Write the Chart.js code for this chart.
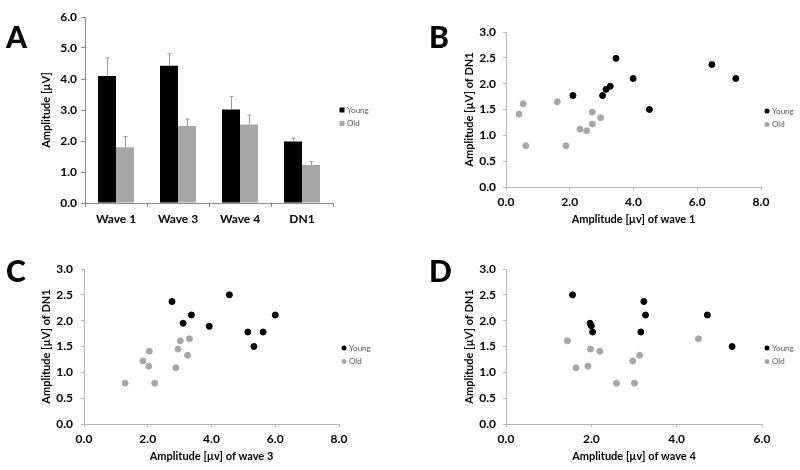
<!DOCTYPE html>
<html>
<head>
<meta charset="utf-8">
<script src="https://cdn.jsdelivr.net/npm/chart.js@4"></script>
<style>
    body { margin: 0; background: #fff; }
    #wrap { position: relative; width: 800px; height: 470px; overflow: hidden; }
    .panel { position: absolute; width: 400px; height: 235px; }
    .letter { position: absolute; font-family: Lato, "Liberation Sans", sans-serif; font-weight: 900; font-size: 30px; color: #000; line-height: 1; }
</style>
</head>
<body>
<div id="wrap">
    <div class="panel" style="left:0;top:0"><canvas id="chartA" width="400" height="235"></canvas></div>
    <div class="panel" style="left:400px;top:0"><canvas id="chartB" width="400" height="235"></canvas></div>
    <div class="panel" style="left:0;top:235px"><canvas id="chartC" width="400" height="235"></canvas></div>
    <div class="panel" style="left:400px;top:235px"><canvas id="chartD" width="400" height="235"></canvas></div>
    <div class="letter" style="left:6px;top:21px">A</div>
    <div class="letter" style="left:429px;top:21px">B</div>
    <div class="letter" style="left:6px;top:255px">C</div>
    <div class="letter" style="left:429px;top:255px">D</div>
</div>
<script>
// Panel A - mean amplitudes
const categories = ['Wave 1', 'Wave 3', 'Wave 4', 'DN1'];
const youngMean = [4.1, 4.43, 3.02, 1.98];
const oldMean = [1.8, 2.48, 2.53, 1.23];
const youngErr = [0.6, 0.4, 0.43, 0.12];
const oldErr = [0.36, 0.24, 0.32, 0.12];

// Panel B - wave 1 vs DN1
const w1YoungX = [2.1, 3.03, 3.14, 3.27, 3.45, 3.99, 4.5, 6.46, 7.21];
const w1YoungY = [1.77, 1.77, 1.89, 1.95, 2.49, 2.1, 1.5, 2.37, 2.1];
const w1OldX = [0.41, 0.54, 0.62, 1.61, 1.88, 2.32, 2.53, 2.71, 2.71, 2.97];
const w1OldY = [1.41, 1.61, 0.8, 1.65, 0.8, 1.12, 1.09, 1.45, 1.22, 1.34];

// Panel C - wave 3 vs DN1
const w3YoungX = [2.76, 3.11, 3.37, 3.93, 4.56, 5.14, 5.33, 5.62, 6.0];
const w3YoungY = [2.37, 1.95, 2.11, 1.89, 2.5, 1.78, 1.5, 1.78, 2.11];
const w3OldX = [1.29, 1.85, 2.05, 2.03, 2.22, 2.88, 2.95, 3.02, 3.25, 3.31];
const w3OldY = [0.79, 1.22, 1.41, 1.12, 0.79, 1.09, 1.45, 1.61, 1.33, 1.65];

// Panel D - wave 4 vs DN1
const w4YoungX = [1.56, 1.97, 2.0, 2.03, 3.16, 3.23, 3.27, 4.72, 5.3];
const w4YoungY = [2.5, 1.95, 1.9, 1.78, 1.78, 2.37, 2.11, 2.11, 1.5];
const w4OldX = [1.44, 1.64, 1.92, 1.98, 2.2, 2.59, 2.97, 3.01, 3.13, 4.51];
const w4OldY = [1.61, 1.09, 1.12, 1.45, 1.41, 0.79, 1.22, 0.79, 1.33, 1.65];

const BLACK = '#000000';
const GREY = '#a6a6a6';
const FONT = 'Lato, "Liberation Sans", sans-serif';

const toPoints = (xs, ys) => xs.map((x, i) => ({ x: x, y: ys[i] }));

// one-sided error bars, drawn through the y scale
const errorBars = {
    id: 'errorBars',
    afterDatasetsDraw(chart) {
        const errs = chart.options.plugins.errorBars.errors;
        if (!errs) return;
        const ctx = chart.ctx;
        const y = chart.scales.y;
        ctx.save();
        ctx.strokeStyle = '#9a9a9a';
        ctx.lineWidth = 1;
        chart.data.datasets.forEach((ds, di) => {
            const meta = chart.getDatasetMeta(di);
            meta.data.forEach((bar, i) => {
                const top = y.getPixelForValue(ds.data[i] + errs[di][i]);
                const x = Math.round(bar.x) + 0.5;
                ctx.beginPath();
                ctx.moveTo(x, bar.y);
                ctx.lineTo(x, top);
                ctx.moveTo(x - 2, top + 0.5);
                ctx.lineTo(x + 2, top + 0.5);
                ctx.stroke();
            });
        });
        ctx.restore();
    }
};

// small legend to the right of the plot
const sideLegend = {
    id: 'sideLegend',
    afterDraw(chart) {
        const o = chart.options.plugins.sideLegend;
        const ctx = chart.ctx;
        ctx.save();
        ctx.font = '8px ' + FONT;
        ctx.textBaseline = 'middle';
        chart.data.datasets.forEach((ds, i) => {
            const yy = o.y + i * 13.6;
            ctx.fillStyle = ds.backgroundColor;
            if (o.shape === 'square') {
                ctx.fillRect(o.x - 2.5, yy - 2.5, 5, 5);
            } else {
                ctx.beginPath();
                ctx.arc(o.x, yy, 2.5, 0, Math.PI * 2);
                ctx.fill();
            }
            ctx.fillStyle = '#555';
            ctx.fillText(ds.label, o.x + 5, yy);
        });
        ctx.restore();
    }
};

Chart.register(errorBars, sideLegend);

function fixWidth(w) {
    return scale => { scale.width = w; };
}
function fixHeight(h) {
    return scale => { scale.height = h; };
}

// Panel A
new Chart(document.getElementById('chartA'), {
    type: 'bar',
    data: {
        labels: categories,
        datasets: [
            { label: 'Young', data: youngMean, backgroundColor: BLACK },
            { label: 'Old', data: oldMean, backgroundColor: GREY }
        ]
    },
    options: {
        responsive: false,
        animation: false,
        categoryPercentage: 0.58,
        barPercentage: 1,
        layout: { padding: { top: 17, right: 67, left: 0, bottom: 0 } },
        plugins: {
            legend: { display: false },
            tooltip: { enabled: false },
            errorBars: { errors: [youngErr, oldErr] },
            sideLegend: { x: 342, y: 110, shape: 'square' }
        },
        scales: {
            x: {
                afterFit: fixHeight(32),
                border: { color: '#888' },
                grid: { display: true, drawOnChartArea: false, offset: true, tickLength: 4, color: '#888' },
                ticks: { color: '#000', padding: 5, font: { family: FONT, size: 12, weight: 'bold' } }
            },
            y: {
                min: 0,
                max: 6,
                afterFit: fixWidth(85),
                border: { color: '#888' },
                grid: { drawOnChartArea: false, tickLength: 4, color: '#888' },
                ticks: {
                    stepSize: 1,
                    color: '#000',
                    padding: 4,
                    font: { family: FONT, size: 12, weight: 'bold' },
                    callback: v => v.toFixed(1)
                },
                title: {
                    display: true,
                    text: 'Amplitude [µV]',
                    color: '#000',
                    padding: { top: 40 },
                    font: { family: FONT, size: 11, weight: 'bold' }
                }
            }
        }
    }
});

function scatterPanel(id, xTitle, xMax, youngPts, oldPts, box) {
    new Chart(document.getElementById(id), {
        type: 'scatter',
        data: {
            datasets: [
                { label: 'Young', data: youngPts, backgroundColor: BLACK, borderColor: BLACK, pointRadius: 3 },
                { label: 'Old', data: oldPts, backgroundColor: GREY, borderColor: GREY, pointRadius: 3 }
            ]
        },
        options: {
            responsive: false,
            animation: false,
            layout: { padding: { top: box.top, right: box.right, left: 0, bottom: 0 } },
            plugins: {
                legend: { display: false },
                tooltip: { enabled: false },
                sideLegend: { x: box.legX, y: box.legY, shape: 'circle' }
            },
            scales: {
                x: {
                    min: 0,
                    max: xMax,
                    afterFit: fixHeight(box.xh),
                    border: { color: '#b5b5b5' },
                    grid: { drawOnChartArea: false, tickLength: 3, color: '#b5b5b5' },
                    ticks: {
                        stepSize: 2,
                        color: '#000',
                        padding: 5,
                        font: { family: FONT, size: 12, weight: 'bold' },
                        callback: v => v.toFixed(1)
                    },
                    title: {
                        display: true,
                        text: xTitle,
                        color: '#000',
                        padding: { bottom: box.xTitlePad },
                        font: { family: FONT, size: 11, weight: 'bold' }
                    }
                },
                y: {
                    min: 0,
                    max: 3,
                    afterFit: fixWidth(box.yw),
                    border: { color: '#b5b5b5' },
                    grid: { drawOnChartArea: false, tickLength: 3, color: '#b5b5b5' },
                    ticks: {
                        stepSize: 0.5,
                        color: '#000',
                        padding: box.yTickPad,
                        font: { family: FONT, size: 12, weight: 'bold' },
                        callback: v => v.toFixed(1)
                    },
                    title: {
                        display: true,
                        text: 'Amplitude [µV] of DN1',
                        color: '#000',
                        padding: { top: box.yTitlePad },
                        font: { family: FONT, size: 11, weight: 'bold' }
                    }
                }
            }
        }
    });
}

scatterPanel('chartB', 'Amplitude [µv] of wave 1', 8,
    toPoints(w1YoungX, w1YoungY), toPoints(w1OldX, w1OldY),
    { top: 32, right: 39, yw: 106, xh: 48, legX: 367, legY: 111, xTitlePad: 9, yTitlePad: 63, yTickPad: 7 });

scatterPanel('chartC', 'Amplitude [µv] of wave 3', 8,
    toPoints(w3YoungX, w3YoungY), toPoints(w3OldX, w3OldY),
    { top: 34, right: 61, yw: 84, xh: 46, legX: 344, legY: 113, xTitlePad: 7, yTitlePad: 40, yTickPad: 8 });

scatterPanel('chartD', 'Amplitude [µv] of wave 4', 6,
    toPoints(w4YoungX, w4YoungY), toPoints(w4OldX, w4OldY),
    { top: 34, right: 38, yw: 106, xh: 46, legX: 367, legY: 113, xTitlePad: 7, yTitlePad: 63, yTickPad: 7 });
</script>
</body>
</html>
